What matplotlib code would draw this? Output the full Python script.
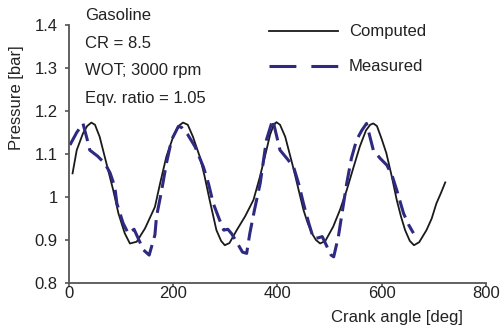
import matplotlib
matplotlib.use("Agg")
import matplotlib.pyplot as plt
from matplotlib.lines import Line2D

plt.rcParams['font.family'] = ['Liberation Sans', 'DejaVu Sans']

# Computed (solid black)
comp_x = [7, 15, 27, 35, 43, 50, 59, 72, 85, 95, 107, 117, 130, 146, 165, 175, 187, 200, 210, 219,
          228, 238, 251, 260, 270, 283, 292, 299, 308, 322, 338, 354, 366, 376, 386, 392, 398,
          405, 415, 430, 440, 450, 458, 466, 474, 482, 492, 507, 520, 533, 545, 558, 570, 578, 584,
          591, 600, 609, 619, 629, 637, 645, 654, 662, 672, 686, 696, 705, 714, 722]
comp_y = [1.055, 1.109, 1.148, 1.165, 1.173, 1.168, 1.14, 1.078, 1.016, 0.962, 0.916, 0.892, 0.896, 0.927,
          0.977, 1.032, 1.094, 1.14, 1.165, 1.173,
          1.168, 1.14, 1.094, 1.05, 0.993, 0.923, 0.898, 0.888, 0.893, 0.923, 0.955, 0.993, 1.045, 1.094,
          1.145, 1.165, 1.174,
          1.168, 1.14, 1.07, 1.02, 0.97, 0.94, 0.916, 0.90, 0.892, 0.898, 0.931, 0.97, 1.016, 1.065, 1.117,
          1.155, 1.168, 1.171,
          1.165, 1.135, 1.102, 1.05, 0.993, 0.955, 0.923, 0.898, 0.888, 0.895, 0.923, 0.95, 0.985, 1.01, 1.034]

# Measured (dashed blue)
meas_x = [2, 15, 27, 37, 40, 55, 69, 79, 88, 92, 104, 114, 125, 143, 154, 165, 168, 178, 187, 197, 210,
          216, 228, 242, 258, 268, 277, 288, 297, 305, 312, 322, 333, 341, 347, 356, 367, 379, 391,
          405, 418, 431, 441, 450, 460, 469, 478, 486, 495, 503, 508, 517, 525, 533, 542, 552, 562, 571,
          584, 597, 610, 620, 629, 642, 652, 661]
meas_y = [1.121, 1.15, 1.171, 1.125, 1.109, 1.095, 1.078, 1.056, 1.024, 0.985, 0.939, 0.915, 0.925, 0.877,
          0.865, 0.912, 0.954, 1.016, 1.078, 1.133, 1.164,
          1.162, 1.145, 1.117, 1.07, 1.03, 0.985, 0.95, 0.923, 0.925, 0.915, 0.895, 0.872, 0.869, 0.915,
          0.97, 1.032, 1.133, 1.18,
          1.109, 1.09, 1.07, 1.03, 0.985, 0.94, 0.904, 0.905, 0.908, 0.885, 0.865, 0.861, 0.908, 0.97,
          1.032, 1.09, 1.133, 1.155, 1.171,
          1.109, 1.09, 1.074, 1.05, 1.016, 0.962, 0.935, 0.916]

x_ticks = [0, 200, 400, 600, 800]
y_ticks = [0.8, 0.9, 1.0, 1.1, 1.2, 1.3, 1.4]
y_tick_labels = ["0.8", "0.9", "1", "1.1", "1.2", "1.3", "1.4"]
info_lines = ["Gasoline", "CR = 8.5", "WOT; 3000 rpm", "Eqv. ratio = 1.05"]

FS = 12
TXT = '#222222'
BLUE = '#2e2a82'

fig = plt.figure(figsize=(5.03, 3.28), dpi=100)
ax = fig.add_axes([0.137, 0.137, 0.829, 0.787])

ax.plot(comp_x, comp_y, color='#1a1a1a', lw=1.3)
ax.plot(meas_x, meas_y, color=BLUE, lw=2.2, dashes=(5.9, 2.4))

ax.set_xlim(0, 800)
ax.set_ylim(0.8, 1.4)
ax.set_xticks(x_ticks)
ax.set_yticks(y_ticks)
ax.set_yticklabels(y_tick_labels)
for s in ['top', 'right']:
    ax.spines[s].set_visible(False)
for s in ['left', 'bottom']:
    ax.spines[s].set_color('#555555')
    ax.spines[s].set_linewidth(1.3)
ax.tick_params(colors='#555555', labelcolor=TXT, labelsize=FS, width=1.2, length=3)
ax.tick_params(axis='x', pad=-1)
ax.tick_params(axis='y', pad=5)

ax.set_ylabel('Pressure [bar]', fontsize=FS, color=TXT)
ax.yaxis.set_label_coords(-0.125, 0.719)
ax.set_xlabel('Crank angle [deg]', fontsize=FS, color=TXT)
ax.xaxis.set_label_coords(0.787, -0.135)
ax.xaxis.label.set_va('center')
ax.yaxis.label.set_va('center')

ys = [15, 43, 71, 98]
for t, yp in zip(info_lines, ys):
    fig.text(85 / 503, 1 - yp / 328, t, fontsize=FS, color=TXT, va='center', ha='left')

handles = [Line2D([], [], color='#1a1a1a', lw=1.3),
           Line2D([], [], color=BLUE, lw=2.2, dashes=(8.8, 4.9))]
leg = ax.legend(handles, ['Computed', 'Measured'], loc='upper left',
                bbox_to_anchor=(0.465, 1.028), frameon=False, fontsize=FS,
                handlelength=4.1, handletextpad=0.65, labelspacing=1.2, borderaxespad=0)
for t in leg.get_texts():
    t.set_color(TXT)

fig.savefig('out.png', dpi=100)
